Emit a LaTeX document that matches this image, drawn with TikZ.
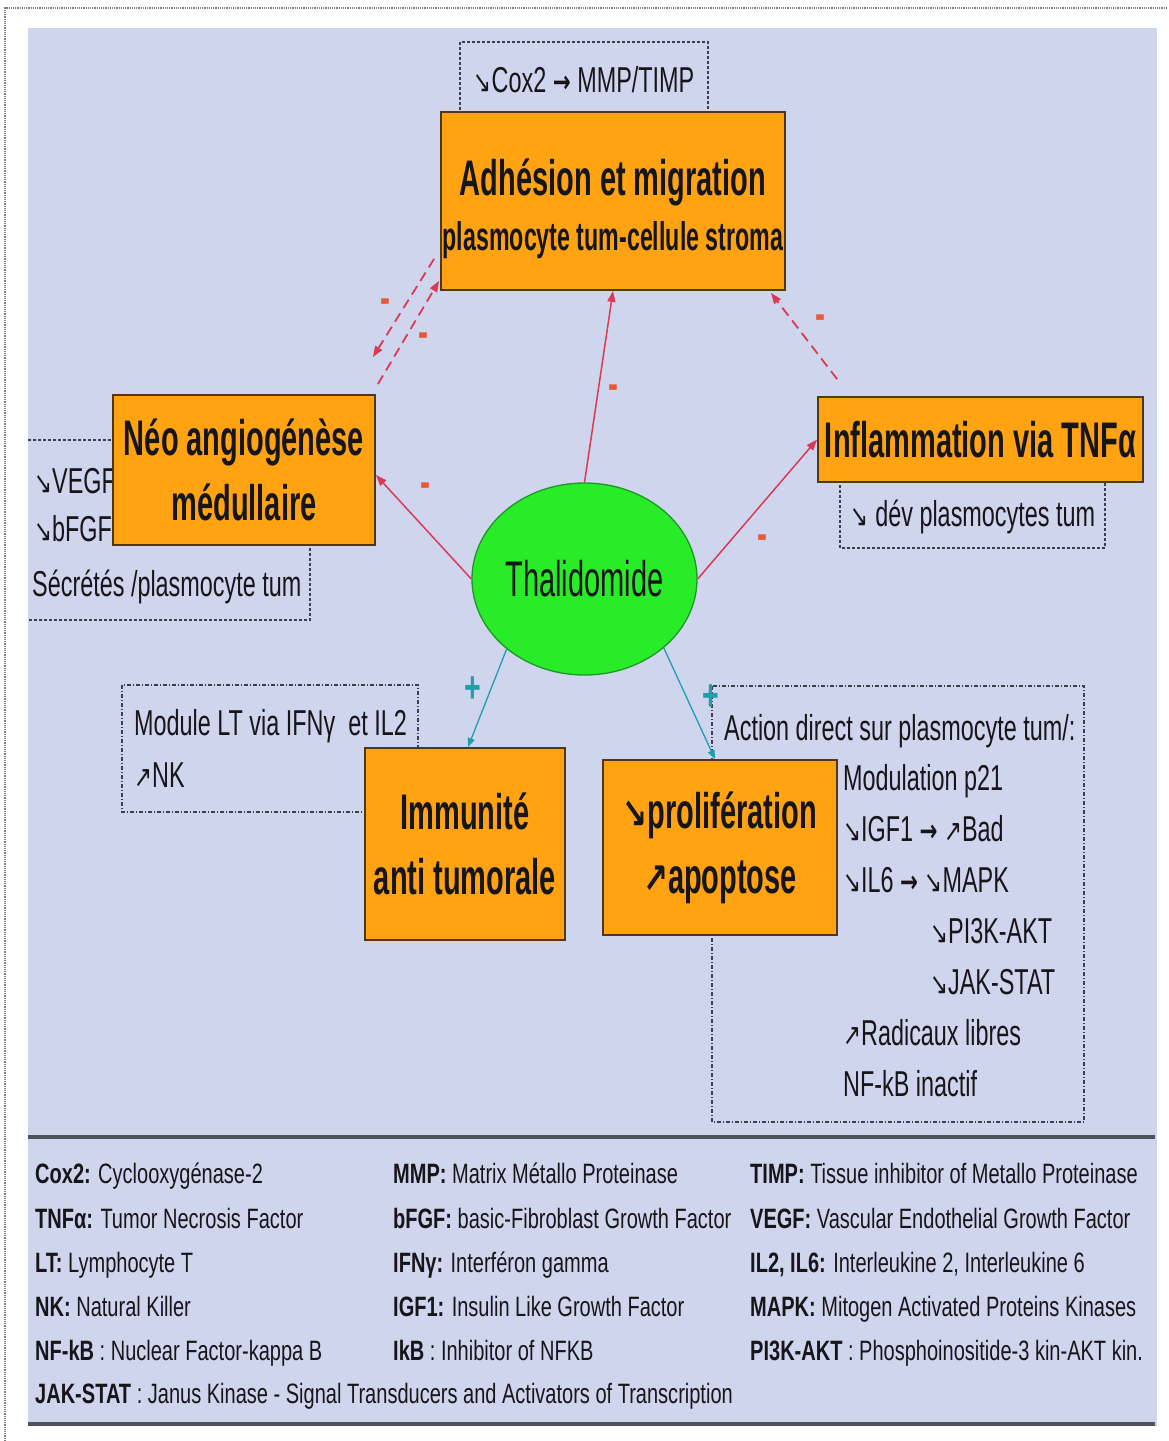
\documentclass[tikz,border=0pt]{standalone}
\usepackage{fontspec}
\usepackage{graphicx}
\setmainfont{Liberation Sans}
\newfontfamily\fA[FakeStretch=0.58]{Liberation Sans}
\newfontfamily\fB[FakeStretch=0.65]{Liberation Sans}
\newfontfamily\fC[FakeStretch=0.715]{Liberation Sans}
\newfontfamily\arrf[FakeStretch=0.7]{DejaVu Sans}
\newcommand\dnar{{\arrf\scalebox{0.85}{↘}}}
\newcommand\upar{{\arrf\scalebox{0.85}{↗}}}
\newcommand\rtar{{\arrf\bfseries\scalebox{0.85}{→}}}
\usetikzlibrary{arrows.meta,calc,shapes.geometric}
\definecolor{bgc}{RGB}{208,213,238}
\definecolor{boxorange}{RGB}{255,163,18}
\definecolor{boxborder}{RGB}{80,55,25}
\definecolor{greenc}{RGB}{40,236,40}
\definecolor{greenb}{RGB}{30,150,40}
\definecolor{redc}{RGB}{218,58,82}
\definecolor{minusc}{RGB}{232,88,56}
\definecolor{tealc}{RGB}{32,158,170}
\definecolor{dotc}{RGB}{60,62,75}
\definecolor{txt}{RGB}{22,22,26}
\definecolor{legline}{RGB}{78,82,92}
\begin{document}
\begin{tikzpicture}[x=1pt,y=-1pt,
  obox/.style={draw=boxborder, line width=1.8pt, fill=boxorange, inner sep=0pt, align=center, text=txt,
    font=\fA\bfseries\fontsize{50}{65}\selectfont},
  dotbox/.style={draw=dotc, line width=1.2pt, dash pattern=on 3pt off 2pt},
  ddbox/.style={draw=dotc, line width=1.1pt, dash pattern=on 4pt off 2pt on 1pt off 2pt},
  inh/.style={draw=redc, line width=1.5pt, -{Triangle[length=11pt,width=8pt]}, redc},
  inhd/.style={inh, line width=1.8pt, dash pattern=on 10pt off 6pt},
  act/.style={draw=tealc, line width=1.3pt, -{Triangle[length=9pt,width=7pt]}, tealc},
  minus/.style={text=minusc, font=\fB\bfseries\fontsize{46}{46}\selectfont, inner sep=0pt},
  plus/.style={text=tealc, font=\fB\bfseries\fontsize{44}{44}\selectfont, inner sep=0pt},
  mtxt/.style={text=txt, font=\fB\fontsize{36}{50}\selectfont, inner sep=0pt},
  leg/.style={text=txt, font=\fC\fontsize{28}{34}\selectfont, inner sep=0pt}
]
\useasboundingbox (0,0) rectangle (1168,1441);
% page frame
\fill[white] (0,0) rectangle (1168,1441);
\draw[gray, line width=1.2pt, densely dotted] (5,1441) -- (5,8) -- (1168,8);
% background
\fill[bgc] (28,28) rectangle (1157,1426);
% legend separators
\draw[legline, line width=4pt] (28,1137) -- (1155,1137);
\draw[legline, line width=4pt] (28,1424) -- (1155,1424);

% dotted boxes
\draw[dotbox] (460,120) -- (460,42) -- (708,42) -- (708,120);
\draw[dotbox] (28,440) -- (310,440) -- (310,620) -- (28,620);
\draw[dotbox] (840,470) -- (840,548) -- (1105,548) -- (1105,470);
\draw[ddbox] (122,685) rectangle (418,812);
\draw[ddbox] (712,686) rectangle (1084,1122);

% texts in dotted boxes
\node[mtxt, anchor=base] (cox) at (584,92) {\dnar Cox2 \rtar{} MMP/TIMP};
\node[mtxt, anchor=base west] (vegf) at (34,493) {\dnar VEGF};
\node[mtxt, anchor=base west] (bfgf) at (34,541) {\dnar bFGF};
\node[mtxt, anchor=base west] (secr) at (32,596) {Sécrétés /plasmocyte tum};
\node[mtxt, anchor=base] (dev) at (973,526) {\dnar{} dév plasmocytes tum};
\node[mtxt, anchor=base west] (modlt) at (134,735) {Module LT via IFNγ\ \ et IL2};
\node[mtxt, anchor=base west] (nk) at (134,787) {\upar NK};
\node[mtxt, anchor=base west] (act1) at (724,740) {Action direct sur plasmocyte tum/:};
\node[mtxt, anchor=base west] (r1) at (843,790) {Modulation p21};
\node[mtxt, anchor=base west] (r2) at (843,841) {\dnar IGF1 \rtar{} \upar Bad};
\node[mtxt, anchor=base west] (r3) at (843,892) {\dnar IL6 \rtar{} \dnar MAPK};
\node[mtxt, anchor=base west] (r4) at (930,943) {\dnar PI3K-AKT};
\node[mtxt, anchor=base west] (r5) at (930,994) {\dnar JAK-STAT};
\node[mtxt, anchor=base west] (r6) at (843,1045) {\upar Radicaux libres};
\node[mtxt, anchor=base west] (r7) at (843,1096) {NF-kB inactif};

% main boxes
\node[obox, minimum width=344, minimum height=178] (adh) at (613,201) {};
\node[text=txt, font=\fA\bfseries\fontsize{50}{60}\selectfont, anchor=base, inner sep=0pt] (adht1) at (613,195) {Adhésion et migration};
\node[text=txt, font=\fA\bfseries\fontsize{40}{48}\selectfont, anchor=base, inner sep=0pt] (adht2) at (613,250) {plasmocyte tum-cellule stroma};
\node[obox, minimum width=262, minimum height=150] (neo) at (244,470)
  {Néo angiogénèse\\médullaire};
\node[obox, minimum width=325, minimum height=85] (infl) at (980.5,439.5)
  {Inflammation via TNFα};
\node[obox, minimum width=200, minimum height=192] (imm) at (465,844)
  {Immunité\\anti tumorale};
\node[obox, minimum width=234, minimum height=175] (prol) at (720,847.5)
  {\dnar prolifération\\\upar apoptose};
\node[ellipse, draw=greenb, fill=greenc, line width=1.3pt, minimum width=225, minimum height=192,
  inner sep=0pt, text=txt, font=\fA\fontsize{50}{60}\selectfont] (thal) at (584.5,579) {Thalidomide};

% connectors
\draw[inh] (thal.north) -- (adh.south);
\draw[inh] (thal.west) -- ($(neo.east)+(0,5)$);
\draw[inh] (thal.east) -- (infl.west);
\draw[inhd] ($(adh.south west)+(-6,-32)$) -- ($(neo.north east)+(-3,-37)$);
\draw[inhd] ($(neo.north east)+(2,-10)$) -- ($(adh.south west)+(-1,-10)$);
\draw[inhd] ($(infl.north west)+(20,-17)$) -- ($(adh.south east)+(-15,2)$);
\draw[act] (thal.222) -- ($(imm.north)+(3,0)$);
\draw[act] (thal.319) -- ($(prol.north)+(-5,0)$);

% signs
\node[minus] (m1) at (385,306) {-};
\node[minus] (m2) at (423,340) {-};
\node[minus] (m3) at (613,392) {-};
\node[minus] (m4) at (425,490) {-};
\node[minus] (m5) at (762,542) {-};
\node[minus] (m6) at (820,322) {-};
\node[plus] (p1) at (473,690) {+};
\node[plus] (p2) at (711,698) {+};

% legend
\node[leg, anchor=base west] (l1) at (35,1183) {\textbf{Cox2:} Cyclooxygénase-2};
\node[leg, anchor=base west] (l2) at (35,1228) {\textbf{TNFα:} Tumor Necrosis Factor};
\node[leg, anchor=base west] (l3) at (35,1272) {\textbf{LT:} Lymphocyte T};
\node[leg, anchor=base west] (l4) at (35,1316) {\textbf{NK:} Natural Killer};
\node[leg, anchor=base west] (l5) at (35,1360) {\textbf{NF-kB} : Nuclear Factor-kappa B};
\node[leg, anchor=base west] (l6) at (35,1403) {\textbf{JAK-STAT} : Janus Kinase - Signal Transducers and Activators of Transcription};
\node[leg, anchor=base west] (l7) at (393,1183) {\textbf{MMP:} Matrix Métallo Proteinase};
\node[leg, anchor=base west] (l8) at (393,1228) {\textbf{bFGF:} basic-Fibroblast Growth Factor};
\node[leg, anchor=base west] (l9) at (393,1272) {\textbf{IFNγ:} Interféron gamma};
\node[leg, anchor=base west] (l10) at (393,1316) {\textbf{IGF1:} Insulin Like Growth Factor};
\node[leg, anchor=base west] (l11) at (393,1360) {\textbf{IkB} : Inhibitor of NFKB};
\node[leg, anchor=base west] (l12) at (750,1183) {\textbf{TIMP:} Tissue inhibitor of Metallo Proteinase};
\node[leg, anchor=base west] (l13) at (750,1228) {\textbf{VEGF:} Vascular Endothelial Growth Factor};
\node[leg, anchor=base west] (l14) at (750,1272) {\textbf{IL2, IL6:} Interleukine 2, Interleukine 6};
\node[leg, anchor=base west] (l15) at (750,1316) {\textbf{MAPK:} Mitogen Activated Proteins Kinases};
\node[leg, anchor=base west] (l16) at (750,1360) {\textbf{PI3K-AKT} : Phosphoinositide-3 kin-AKT kin.};
\end{tikzpicture}
\end{document}
